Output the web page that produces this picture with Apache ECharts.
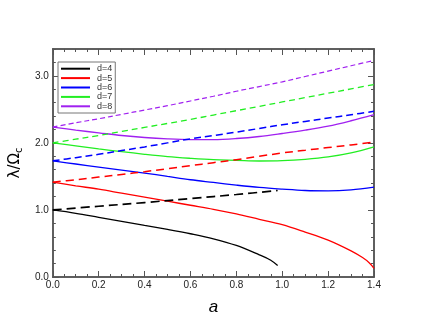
<!DOCTYPE html>
<html>
<head>
<meta charset="utf-8">
<script src="https://cdn.jsdelivr.net/npm/echarts@6/dist/echarts.min.js"></script>
<style>
  html, body { margin: 0; padding: 0; background: #fff; }
  #chart { width: 423px; height: 327px; }
</style>
</head>
<body>
<div id="chart"></div>
<script>
    // spin parameter a on the x axis
    var a_full = [0, 0.1, 0.2, 0.3, 0.4, 0.5, 0.6, 0.7, 0.8, 0.9, 1.0, 1.1, 1.2, 1.3, 1.4];
    var a_d4 = [0, 0.1, 0.2, 0.3, 0.4, 0.5, 0.6, 0.7, 0.8, 0.9, 0.95, 0.98];
    var a_d4_dash = [0, 0.2, 0.4, 0.6, 0.8, 0.98];
    var a_d5 = [0, 0.1, 0.2, 0.3, 0.4, 0.5, 0.6, 0.7, 0.8, 0.9, 1.0, 1.1, 1.2, 1.3, 1.35, 1.38, 1.4];

    // solid curves
    var d4_solid = [1.0, 0.95, 0.89, 0.83, 0.77, 0.71, 0.645, 0.57, 0.47, 0.33, 0.25, 0.17];
    var d5_solid = [1.414, 1.36, 1.31, 1.25, 1.19, 1.13, 1.07, 1.01, 0.94, 0.86, 0.78, 0.67, 0.55, 0.39, 0.29, 0.21, 0.13];
    var d6_solid = [1.732, 1.685, 1.64, 1.595, 1.55, 1.50, 1.45, 1.41, 1.37, 1.335, 1.31, 1.29, 1.285, 1.30, 1.34];
    var d7_solid = [2.0, 1.955, 1.91, 1.87, 1.83, 1.795, 1.77, 1.75, 1.74, 1.73, 1.735, 1.755, 1.79, 1.85, 1.94];
    var d8_solid = [2.236, 2.19, 2.15, 2.11, 2.08, 2.06, 2.05, 2.05, 2.065, 2.095, 2.14, 2.19, 2.25, 2.33, 2.42];

    // dashed curves
    var d4_dash = [1.0, 1.055, 1.11, 1.17, 1.23, 1.29];
    var d5_dash = [1.414, 1.45, 1.49, 1.53, 1.57, 1.615, 1.66, 1.705, 1.75, 1.80, 1.85, 1.89, 1.93, 1.97, 2.01];
    var d6_dash = [1.732, 1.78, 1.83, 1.885, 1.94, 2.0, 2.06, 2.11, 2.16, 2.215, 2.27, 2.32, 2.37, 2.42, 2.47];
    var d7_dash = [2.0, 2.055, 2.11, 2.17, 2.23, 2.29, 2.35, 2.415, 2.48, 2.545, 2.61, 2.675, 2.74, 2.805, 2.87];
    var d8_dash = [2.236, 2.30, 2.36, 2.425, 2.49, 2.555, 2.625, 2.695, 2.77, 2.84, 2.91, 2.99, 3.07, 3.15, 3.23];

    var legend_names = ['d=4', 'd=5', 'd=6', 'd=7', 'd=8'];
    var line_colors = ['#000000', '#ff0000', '#0000ff', '#22ee22', '#a020f0'];

    function pairs(xs, ys) {
        return xs.map(function (x, i) { return [x, ys[i]]; });
    }

    function solid_line(name, color, data) {
        return {
            name: name, type: 'line', data: data, symbol: 'none',
            smooth: 0.35, xAxisIndex: 0, yAxisIndex: 0,
            lineStyle: { color: color, width: 1.3 },
            itemStyle: { color: color }
        };
    }

    function dash_line(name, color, data, dash, width) {
        return {
            name: name, type: 'line', data: data, symbol: 'none',
            smooth: 0.35, xAxisIndex: 0, yAxisIndex: 0,
            lineStyle: { color: color, width: width, type: dash },
            itemStyle: { color: color }
        };
    }

    var axis_color = '#555555';
    var label_style = { color: '#222', fontSize: 10, fontFamily: 'Liberation Sans' };

    function y_axis(pos, interval, tick_len, show_label) {
        return {
            type: 'value', position: pos, min: 0, max: 3.4, interval: interval,
            axisLine: { show: true, onZero: false, lineStyle: { color: axis_color, width: 1.5 } },
            axisTick: { show: true, inside: true, length: tick_len, lineStyle: { color: axis_color, width: 1 } },
            axisLabel: show_label ? Object.assign({
                margin: 4, showMaxLabel: false,
                formatter: function (v) { return Math.abs(v - Math.round(v)) < 1e-6 ? v.toFixed(1) : ''; }
            }, label_style) : { show: false },
            splitLine: { show: false }
        };
    }

    function x_axis(pos, interval, tick_len, show_label) {
        return {
            type: 'value', position: pos, min: 0, max: 1.4, interval: interval,
            axisLine: { show: true, onZero: false, lineStyle: { color: axis_color, width: 1.5 } },
            axisTick: { show: true, inside: true, length: tick_len, lineStyle: { color: axis_color, width: 1 } },
            axisLabel: show_label ? Object.assign({
                margin: 3,
                formatter: function (v) { return v.toFixed(1); }
            }, label_style) : { show: false },
            splitLine: { show: false }
        };
    }

    var xAxes = [
        x_axis('bottom', 0.2, 6, true),
        x_axis('bottom', 0.05, 3, false),
        x_axis('top', 0.2, 6, false),
        x_axis('top', 0.05, 3, false)
    ];
    xAxes[0].name = 'a';
    xAxes[0].nameLocation = 'middle';
    xAxes[0].nameGap = 22;
    xAxes[0].nameTextStyle = { fontSize: 17, fontStyle: 'italic', fontFamily: 'Liberation Sans', color: '#000' };

    var yAxes = [
        y_axis('left', 1, 6, true),
        y_axis('left', 0.2, 3, false),
        y_axis('right', 1, 6, false),
        y_axis('right', 0.2, 3, false)
    ];
    yAxes[0].name = '{m|λ/Ω}{s|c}';
    yAxes[0].nameLocation = 'middle';
    yAxes[0].nameGap = 20;
    yAxes[0].nameRotate = 90;
    yAxes[0].nameTextStyle = {
        color: '#000',
        rich: {
            m: { fontSize: 15, fontFamily: 'DejaVu Sans', color: '#000' },
            s: { fontSize: 10, fontFamily: 'DejaVu Sans', color: '#000', padding: [7, 0, 0, 0] }
        }
    };

    var series = [
        solid_line('d=4', line_colors[0], pairs(a_d4, d4_solid)),
        solid_line('d=5', line_colors[1], pairs(a_d5, d5_solid)),
        solid_line('d=6', line_colors[2], pairs(a_full, d6_solid)),
        solid_line('d=7', line_colors[3], pairs(a_full, d7_solid)),
        solid_line('d=8', line_colors[4], pairs(a_full, d8_solid)),
        dash_line('d=4 dashed', line_colors[0], pairs(a_d4_dash, d4_dash), [9, 5], 1.7),
        dash_line('d=5 dashed', line_colors[1], pairs(a_full, d5_dash), [8, 5], 1.5),
        dash_line('d=6 dashed', line_colors[2], pairs(a_full, d6_dash), [7, 4], 1.5),
        dash_line('d=7 dashed', line_colors[3], pairs(a_full, d7_dash), [6, 4], 1.3),
        dash_line('d=8 dashed', line_colors[4], pairs(a_full, d8_dash), [5, 3], 1.2)
    ];
    // empty helper series so the extra tick axes get drawn
    [1, 2, 3].forEach(function (idx) {
        series.push({ type: 'line', data: [], yAxisIndex: idx, xAxisIndex: 0 });
        series.push({ type: 'line', data: [], yAxisIndex: 0, xAxisIndex: idx });
    });

    var myChart = echarts.init(document.getElementById('chart'), null, { renderer: 'canvas' });
    var option = {
        backgroundColor: '#ffffff',
        animation: false,
        grid: { left: 49, right: 49, top: 49, bottom: 50, containLabel: false },
        legend: {
            data: legend_names,
            orient: 'vertical',
            left: 58, top: 62,
            icon: 'rect',
            itemWidth: 29, itemHeight: 2, itemGap: 0,
            padding: [2, 3, 2, 3],
            borderColor: '#777', borderWidth: 1,
            backgroundColor: '#fff',
            textStyle: { fontSize: 9, fontFamily: 'Liberation Sans', color: '#333', padding: [0, 0, 0, 2], lineHeight: 9.4 }
        },
        xAxis: xAxes,
        yAxis: yAxes,
        series: series
    };
    myChart.setOption(option);
</script>
</body>
</html>
